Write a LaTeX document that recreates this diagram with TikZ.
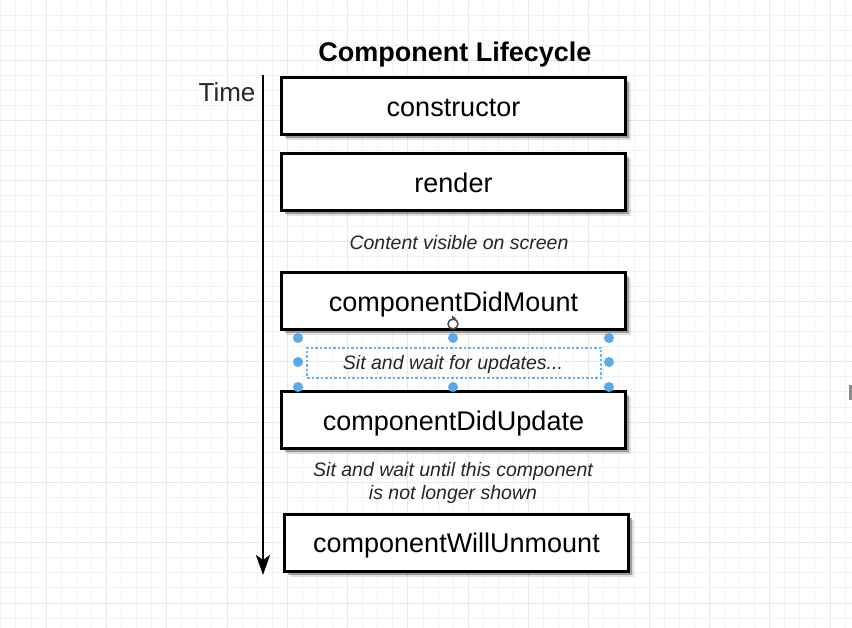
\documentclass[tikz,border=0pt]{standalone}
\usepackage{fontspec}
\setmainfont{Liberation Sans}
\usetikzlibrary{arrows.meta,shadows}
\definecolor{gridminor}{HTML}{F3F3F3}
\definecolor{gridmajor}{HTML}{E9E9E9}
\definecolor{selblue}{HTML}{5AA9EC}
\definecolor{seldash}{HTML}{6AB0EE}
\begin{document}
\begin{tikzpicture}[x=1pt,y=-1pt,
  stagebox/.style={draw=black, line width=3pt, fill=white, rectangle,
    minimum width=344pt, minimum height=57pt, inner sep=0pt,
    text height=22pt, text depth=0pt,
    font=\fontsize{27}{32}\selectfont,
    drop shadow={shadow xshift=5.5pt, shadow yshift=-5.5pt, fill=black, opacity=.12},
    drop shadow={shadow xshift=3.5pt, shadow yshift=-3.5pt, fill=black, opacity=.30}},
  note/.style={font=\fontsize{19.5}{23}\selectfont\itshape, anchor=base, text=black!85, inner sep=0pt},
  handle/.style={circle, fill=selblue, minimum size=10pt, inner sep=0pt},
  minorline/.style={gridminor, line width=1pt},
  majorline/.style={gridmajor, line width=1pt}]
\useasboundingbox (0,0) rectangle (852,628);
\fill[white] (0,0) rectangle (852,628);
% grid
\foreach \k in {0,...,56} {
  \pgfmathsetmacro{\xx}{0.9+15.075*\k}
  \pgfmathtruncatemacro{\m}{mod(\k,4)}
  \ifnum\m=3 \draw[majorline] (\xx,0) -- (\xx,628);
  \else \draw[minorline] (\xx,0) -- (\xx,628); \fi
}
\foreach \k in {0,...,41} {
  \pgfmathsetmacro{\yy}{15.075*\k}
  \pgfmathtruncatemacro{\m}{mod(\k,4)}
  \ifnum\m=0 \draw[majorline] (0,\yy) -- (852,\yy);
  \else \draw[minorline] (0,\yy) -- (852,\yy); \fi
}
% title and time
\node[font=\fontsize{27}{32}\selectfont\bfseries, anchor=base, inner sep=0pt] (title) at (455,62) {Component Lifecycle};
\node[font=\fontsize{26}{31}\selectfont, anchor=base, inner sep=0pt, text=black!85] (time) at (227,102) {Time};
\coordinate (ts) at (263,75);
\coordinate (te) at (263,575);
\draw[line width=2.8pt, -{Stealth[length=20pt,width=14pt,inset=5pt]}] (ts) -- (te);
% boxes
\node[stagebox] (c1) at (453.5,106) {constructor};
\node[stagebox] (c2) at (453.5,182) {render};
\node[note] (n1) at (459,250) {Content visible on screen};
\node[stagebox] (c3) at (453.5,301) {componentDidMount};
\node[stagebox] (c4) at (453.5,420) {componentDidUpdate};
\node[note] (n3a) at (453,476) {Sit and wait until this component};
\node[note] (n3b) at (453,499) {is not longer shown};
\node[stagebox, text height=18pt] (c5) at (456.5,543) {componentWillUnmount};
% selected text
\node[note] (n2) at (453,370) {Sit and wait for updates...};
\node[draw=seldash, line width=1.2pt, dash pattern=on 2.5pt off 2pt, minimum width=294pt, minimum height=30pt, inner sep=0pt] (sel) at (454,363) {};
\foreach \hx/\hy/\hn in {298/338/h1,453/338/h2,609/338/h3,298/362/h4,609/362/h5,298/387/h6,453/387/h7,609/387/h8}
  \node[handle] (\hn) at (\hx,\hy) {};
% rotate icon
\node[circle, draw=black!70, line width=1.5pt, fill=white, minimum size=10pt, inner sep=0pt] (rot) at (453,324) {};
\fill[black!70] (rot.north) ++(-1,-2.5) -- ++(4,2.5) -- ++(-4,2.5) -- cycle;
% edge mark
\fill[black!45] (849,385) rectangle (852,400);
\end{tikzpicture}
\end{document}
